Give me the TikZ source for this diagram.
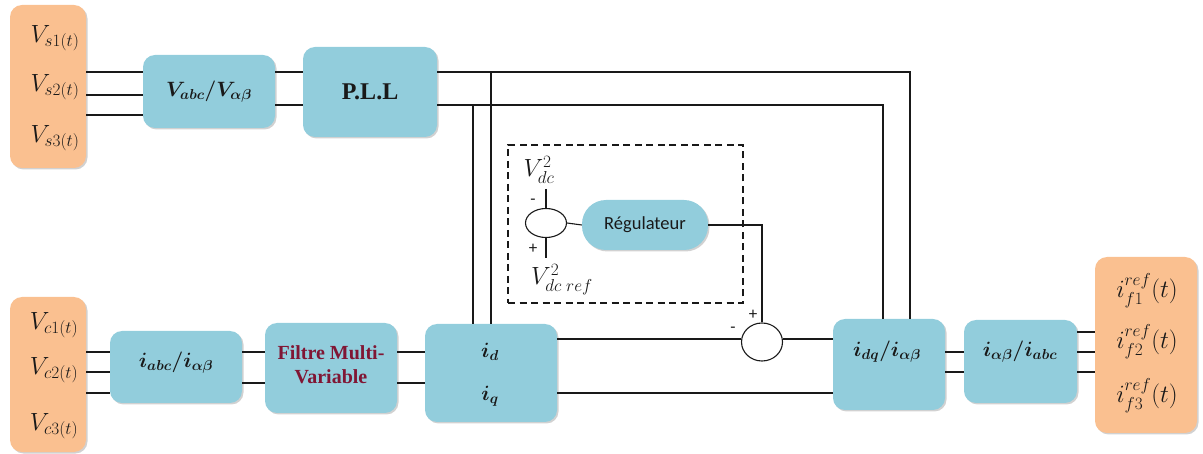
\documentclass[tikz,border=0pt]{standalone}
\usepackage{fontspec}
\usepackage{amsmath,bm}
\newfontfamily\calib{Carlito}
\newfontfamily\tserif{Liberation Serif}
\usetikzlibrary{shapes.geometric,shadows}
\definecolor{boxblue}{RGB}{146,205,220}
\definecolor{boxorange}{RGB}{250,192,144}
\definecolor{filtred}{RGB}{128,22,52}
\definecolor{ink}{RGB}{25,25,25}
\begin{document}
\begin{tikzpicture}[x=1pt,y=-1pt,
  wire/.style={line width=1.1pt,draw=ink},
  shad/.style={drop shadow={shadow xshift=1.5pt,shadow yshift=-1.5pt,opacity=.3,fill=black!60}},
  bbox/.style={fill=boxblue,rounded corners=12pt,inner sep=0pt,shad,text=ink},
  obox/.style={fill=boxorange,rounded corners=12pt,inner sep=0pt,shad},
  lab/.style={font=\fontsize{24}{28}\selectfont,text=ink,inner sep=0pt},
  blab/.style={font=\fontsize{20}{24}\selectfont,text=ink},
  sgn/.style={font=\calib\fontsize{17}{20}\selectfont,text=ink,inner sep=0pt},
  sumc/.style={ellipse,draw=ink,line width=1.1pt,fill=white,inner sep=0pt}
]
\useasboundingbox (0,0) rectangle (1203,454);

% orange source / output boxes
\node[obox,minimum width=76pt,minimum height=163pt] (os) at (48,86.5) {};
\node[obox,minimum width=76pt,minimum height=155pt] (oc) at (48,374.5) {};
\node[obox,minimum width=102pt,minimum height=176pt] (of) at (1146,345) {};

\node[lab] (vs1) at (55,38) {$V_{s1(t)}$};
\node[lab] (vs2) at (55,87) {$V_{s2(t)}$};
\node[lab] (vs3) at (55,138) {$V_{s3(t)}$};
\node[lab] (vc1) at (54,325) {$V_{c1(t)}$};
\node[lab] (vc2) at (54,370) {$V_{c2(t)}$};
\node[lab] (vc3) at (54,426) {$V_{c3(t)}$};
\node[lab] (if1) at (1147,291) {$i_{f1}^{ref}(t)$};
\node[lab] (if2) at (1147,342) {$i_{f2}^{ref}(t)$};
\node[lab] (if3) at (1147,396) {$i_{f3}^{ref}(t)$};

% blue blocks
\node[bbox,minimum width=132pt,minimum height=73pt,blab] (vabc) at (209,91.5) {$\bm{V_{abc}/V_{\alpha\beta}}$};
\node[bbox,minimum width=134pt,minimum height=90pt,font=\tserif\bfseries\fontsize{24}{28}\selectfont] (pll) at (370,92) {P.L.L};
\node[bbox,minimum width=132pt,minimum height=72pt] (iabc) at (176,367) {};
\node[font=\fontsize{22}{26}\selectfont,text=ink,inner sep=0pt] (iabct) at (176,363) {$\bm{i_{abc}/i_{\alpha\beta}}$};
\node[bbox,minimum width=132pt,minimum height=90pt] (filt) at (331,368) {};
\node[font=\tserif\bfseries\fontsize{20}{24}\selectfont,text=filtred,align=center,inner sep=0pt] (filtt) at (331,365) {Filtre Multi-\\Variable};
\node[bbox,minimum width=132pt,minimum height=98pt] (idb) at (491,373) {};
\node[blab,inner sep=0pt] (idt) at (490,352) {$\bm{i_d}$};
\node[blab,inner sep=0pt] (iqt) at (490,396) {$\bm{i_q}$};
\node[bbox,minimum width=112pt,minimum height=91pt] (idq) at (889,364.5) {};
\node[blab,inner sep=0pt] (idqt) at (887,352) {$\bm{i_{dq}/i_{\alpha\beta}}$};
\node[bbox,minimum width=113pt,minimum height=83pt] (iab) at (1020.5,361.5) {};
\node[blab,inner sep=0pt] (iabt) at (1020,352) {$\bm{i_{\alpha\beta}/i_{abc}}$};

% regulator part
\node[draw=ink,line width=1.3pt,dash pattern=on 7pt off 4.5pt,minimum width=235pt,minimum height=158pt,inner sep=0pt] (dbox) at (625.5,224) {};
\node[sumc,minimum width=41pt,minimum height=29pt] (s1) at (546,223) {};
\node[bbox,rounded corners=24pt,minimum width=126pt,minimum height=50pt,font=\calib\fontsize{18.5}{22}\selectfont] (reg) at (645,225) {Régulateur};
\node[lab] (vdc) at (539,170) {$V_{dc}^2$};
\node[lab] (vdcr) at (562,280) {$V_{dc\;ref}^2$};
\node[sgn] (m1) at (533,202) {-};
\node[sgn] (p1) at (533,249) {+};
\coordinate (s1t) at (546,189);
\coordinate (s1b) at (546,258);
\draw[wire] (s1t) -- (s1.north);
\draw[wire] (s1.south) -- (s1b);
\draw[wire] (s1.east) -- (reg.west);

\node[sumc,minimum width=41pt,minimum height=38pt] (s2) at (762,342) {};
\node[sgn] (p2) at (753,315) {+};
\node[sgn] (m2) at (733,330) {-};
\draw[wire] (reg.east) -| (s2.north);

% wires top
\draw[wire] (os.east |- 0,72) -- (vabc.west |- 0,72);
\draw[wire] (os.east |- 0,95) -- (vabc.west |- 0,95);
\draw[wire] (os.east |- 0,115) -- (vabc.west |- 0,115);
\draw[wire] (vabc.east |- 0,72) -- (pll.west |- 0,72);
\draw[wire] (vabc.east |- 0,105) -- (pll.west |- 0,105);
\coordinate (a1) at (910,72);
\coordinate (a2) at (883,105);
\draw[wire] (pll.east |- 0,72) -- (a1) -- (a1 |- idq.north);
\draw[wire] (pll.east |- 0,105) -- (a2) -- (a2 |- idq.north);
\draw[wire] (491,72) -- (491,0 |- idb.north);
\draw[wire] (473,105) -- (473,0 |- idb.north);

% wires bottom
\draw[wire] (oc.east |- 0,352) -- (iabc.west |- 0,352);
\draw[wire] (oc.east |- 0,372) -- (iabc.west |- 0,372);
\draw[wire] (oc.east |- 0,393) -- (iabc.west |- 0,393);
\draw[wire] (iabc.east |- 0,352) -- (filt.west |- 0,352);
\draw[wire] (iabc.east |- 0,383) -- (filt.west |- 0,383);
\draw[wire] (filt.east |- 0,352) -- (idb.west |- 0,352);
\draw[wire] (filt.east |- 0,383) -- (idb.west |- 0,383);
\draw[wire] (idb.east |- 0,339) -- (s2.west |- 0,339);
\draw[wire] (s2.east |- 0,339) -- (idq.west |- 0,339);
\draw[wire] (idb.east |- 0,393) -- (idq.west |- 0,393);
\draw[wire] (idq.east |- 0,352) -- (iab.west |- 0,352);
\draw[wire] (idq.east |- 0,372) -- (iab.west |- 0,372);
\draw[wire] (iab.east |- 0,332) -- (of.west |- 0,332);
\draw[wire] (iab.east |- 0,352) -- (of.west |- 0,352);
\draw[wire] (iab.east |- 0,372) -- (of.west |- 0,372);
\end{tikzpicture}
\end{document}
